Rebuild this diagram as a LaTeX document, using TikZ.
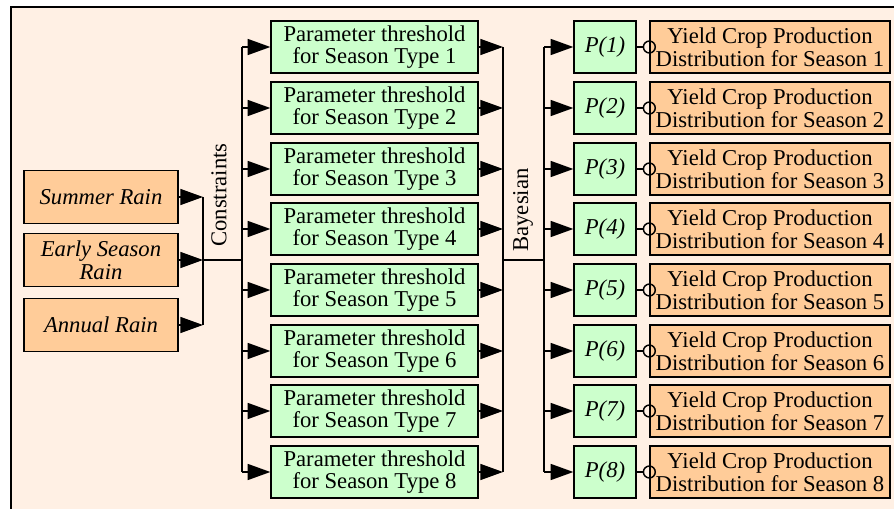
\documentclass[tikz,border=0pt]{standalone}
\usepackage{fontspec}
\setmainfont{Liberation Serif}
\usetikzlibrary{arrows.meta,positioning}
\definecolor{bgpeach}{RGB}{255,240,228}
\definecolor{boxorange}{RGB}{255,204,153}
\definecolor{boxgreen}{RGB}{204,255,204}

\begin{document}
\begin{tikzpicture}[
    x=0.75pt, y=-0.75pt,
    every node/.style={font=\fontsize{17}{17}\selectfont},
    blk/.style={draw, line width=1pt, align=center, inner sep=0pt},
    rain/.style={blk, fill=boxorange, minimum width=115.5pt, minimum height=39.75pt, font=\fontsize{17}{17}\selectfont\itshape},
    thr/.style={blk, fill=boxgreen, minimum width=155.25pt, minimum height=39pt},
    prob/.style={blk, fill=boxgreen, minimum width=46.5pt, minimum height=39pt, font=\fontsize{17}{17}\selectfont\itshape},
    yld/.style={blk, fill=boxorange, minimum width=180pt, minimum height=39pt},
    flow/.style={-{Triangle[length=17pt, width=12pt]}, line width=1.1pt},
    tap/.style={-{Circle[open, length=10pt, width=10pt]}, shorten >=-5pt, line width=1.1pt},
    bus/.style={line width=1.1pt},
    vlabel/.style={rotate=90},
]
\useasboundingbox (0,0) rectangle (894,509);
\clip (0,0) rectangle (894,509);

% Frame
\draw[fill=bgpeach, line width=1.1pt] (11,7) rectangle (910,525);

% === Rain inputs ===
\node[rain] (sum) at (101,197) {Summer Rain};
\node[rain] (early) at (101,260) {Early Season\\Rain};
\node[rain] (ann) at (101,325) {Annual Rain};

% Junctions
\coordinate (j0) at (203,260);
\coordinate (j1) at (242,260);
\coordinate (j2) at (503,260);
\coordinate (j3) at (544,260);

% === Season thresholds ===
\node[thr] (thr1) at (374.5,47) {Parameter threshold\\for Season Type 1};
\node[thr] (thr2) at (374.5,108) {Parameter threshold\\for Season Type 2};
\node[thr] (thr3) at (374.5,169) {Parameter threshold\\for Season Type 3};
\node[thr] (thr4) at (374.5,229) {Parameter threshold\\for Season Type 4};
\node[thr] (thr5) at (374.5,290) {Parameter threshold\\for Season Type 5};
\node[thr] (thr6) at (374.5,351) {Parameter threshold\\for Season Type 6};
\node[thr] (thr7) at (374.5,411) {Parameter threshold\\for Season Type 7};
\node[thr] (thr8) at (374.5,472) {Parameter threshold\\for Season Type 8};

% === Probabilities ===
\node[prob] (p1) at (605,47) {P(1)};
\node[prob] (p2) at (605,108) {P(2)};
\node[prob] (p3) at (605,169) {P(3)};
\node[prob] (p4) at (605,229) {P(4)};
\node[prob] (p5) at (605,290) {P(5)};
\node[prob] (p6) at (605,351) {P(6)};
\node[prob] (p7) at (605,411) {P(7)};
\node[prob] (p8) at (605,472) {P(8)};

% === Yield distributions ===
\node[yld] (y1) at (770,47) {Yield Crop Production\\Distribution for Season 1};
\node[yld] (y2) at (770,108) {Yield Crop Production\\Distribution for Season 2};
\node[yld] (y3) at (770,169) {Yield Crop Production\\Distribution for Season 3};
\node[yld] (y4) at (770,229) {Yield Crop Production\\Distribution for Season 4};
\node[yld] (y5) at (770,290) {Yield Crop Production\\Distribution for Season 5};
\node[yld] (y6) at (770,351) {Yield Crop Production\\Distribution for Season 6};
\node[yld] (y7) at (770,411) {Yield Crop Production\\Distribution for Season 7};
\node[yld] (y8) at (770,472) {Yield Crop Production\\Distribution for Season 8};

% Rain into constraints
\draw[flow] (sum.east) -- (sum.east -| j0);
\draw[flow] (early.east) -- (early.east -| j0);
\draw[flow] (ann.east) -- (ann.east -| j0);
\draw[bus] (sum.east -| j0) -- (ann.east -| j0);
\draw[bus] (j0) -- (j1);
\node[vlabel] (cons) at (219,195) {Constraints};

% Constraints fan out
\draw[bus] (thr1.west -| j1) -- (thr8.west -| j1);
\draw[flow] (thr1.west -| j1) -- (thr1.west);
\draw[flow] (thr2.west -| j1) -- (thr2.west);
\draw[flow] (thr3.west -| j1) -- (thr3.west);
\draw[flow] (thr4.west -| j1) -- (thr4.west);
\draw[flow] (thr5.west -| j1) -- (thr5.west);
\draw[flow] (thr6.west -| j1) -- (thr6.west);
\draw[flow] (thr7.west -| j1) -- (thr7.west);
\draw[flow] (thr8.west -| j1) -- (thr8.west);

% Thresholds collect
\draw[flow] (thr1.east) -- (thr1.east -| j2);
\draw[flow] (thr2.east) -- (thr2.east -| j2);
\draw[flow] (thr3.east) -- (thr3.east -| j2);
\draw[flow] (thr4.east) -- (thr4.east -| j2);
\draw[flow] (thr5.east) -- (thr5.east -| j2);
\draw[flow] (thr6.east) -- (thr6.east -| j2);
\draw[flow] (thr7.east) -- (thr7.east -| j2);
\draw[flow] (thr8.east) -- (thr8.east -| j2);
\draw[bus] (thr1.east -| j2) -- (thr8.east -| j2);
\draw[bus] (j2) -- (j3);
\node[vlabel] (bayes) at (523,210) {Bayesian};

% Bayesian fan out
\draw[bus] (p1.west -| j3) -- (p8.west -| j3);
\draw[flow] (p1.west -| j3) -- (p1.west);
\draw[flow] (p2.west -| j3) -- (p2.west);
\draw[flow] (p3.west -| j3) -- (p3.west);
\draw[flow] (p4.west -| j3) -- (p4.west);
\draw[flow] (p5.west -| j3) -- (p5.west);
\draw[flow] (p6.west -| j3) -- (p6.west);
\draw[flow] (p7.west -| j3) -- (p7.west);
\draw[flow] (p8.west -| j3) -- (p8.west);

% Probability to yield
\draw[tap] (p1) -- (y1);
\draw[tap] (p2) -- (y2);
\draw[tap] (p3) -- (y3);
\draw[tap] (p4) -- (y4);
\draw[tap] (p5) -- (y5);
\draw[tap] (p6) -- (y6);
\draw[tap] (p7) -- (y7);
\draw[tap] (p8) -- (y8);

\end{tikzpicture}
\end{document}
